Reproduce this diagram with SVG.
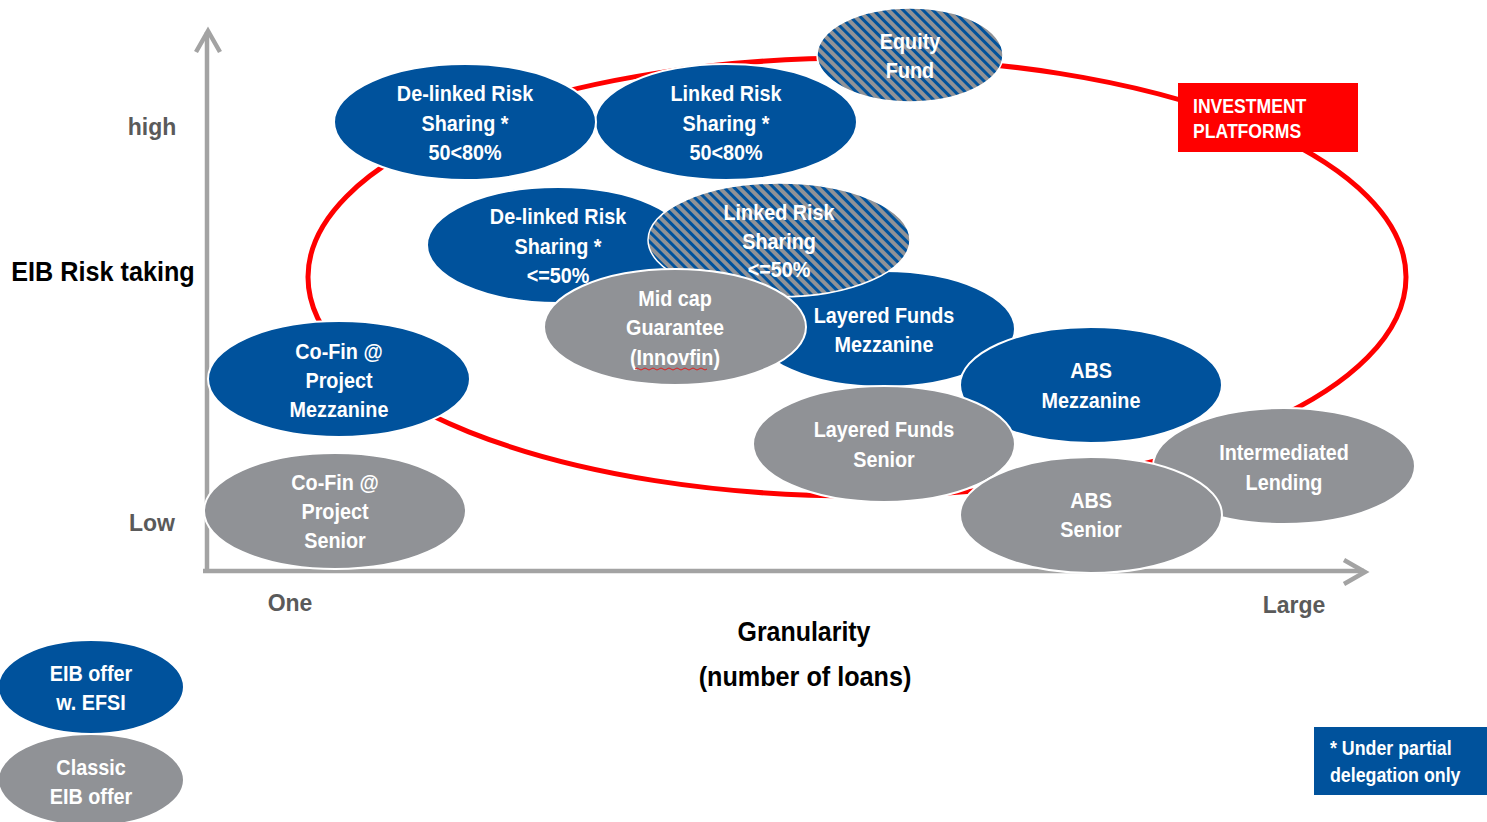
<svg xmlns="http://www.w3.org/2000/svg" width="1487" height="822" viewBox="0 0 1487 822">
<style>
.b{fill:#00529c;stroke:#fff;stroke-width:2}
.g{fill:#909296;stroke:#fff;stroke-width:2}
.h{fill:url(#hatch);stroke:#fff;stroke-width:1.5}
.t{font-family:"Liberation Sans",Arial,sans-serif;font-weight:bold;font-size:22px;fill:#fff;text-anchor:middle}
.ax{fill:none;stroke:#a3a3a3;stroke-width:4.5}
.lab{font-family:"Liberation Sans",Arial,sans-serif;font-weight:bold;font-size:23px;fill:#5a5a5a;text-anchor:middle}
.big{font-family:"Liberation Sans",Arial,sans-serif;font-weight:bold;font-size:28px;fill:#000;text-anchor:middle}
.box{font-family:"Liberation Sans",Arial,sans-serif;font-weight:bold;font-size:20px;fill:#fff}
</style>
<defs>
<pattern id="hatch" patternUnits="userSpaceOnUse" width="7" height="7" patternTransform="rotate(-45)">
<rect width="7" height="7" fill="#909296"/>
<rect width="3" height="7" fill="#00529c"/>
</pattern>
</defs>
<rect width="1487" height="822" fill="#fff"/>
<g id="axes">
<line class="ax" x1="207" y1="32" x2="207" y2="572"/>
<polyline class="ax" points="196,52 208,31 220,52"/>
<line class="ax" x1="203" y1="571" x2="1364" y2="571"/>
<polyline class="ax" points="1344,560 1365,572 1344,584"/>
</g>
<g id="platform-ring">
<ellipse cx="857" cy="277" rx="549" ry="219" fill="none" stroke="#ff0000" stroke-width="5"/>
</g>
<g id="equity-fund"><ellipse class="h" cx="910" cy="55" rx="93" ry="47"/><text class="t" transform="translate(910,0) scale(0.9,1)"><tspan x="0" y="49">Equity</tspan><tspan x="0" y="78">Fund</tspan></text></g>
<g id="linked-50-80"><ellipse class="b" cx="726" cy="122" rx="131" ry="58"/><text class="t" transform="translate(726,0) scale(0.9,1)"><tspan x="0" y="101">Linked Risk</tspan><tspan x="0" y="131">Sharing *</tspan><tspan x="0" y="160">50&lt;80%</tspan></text></g>
<g id="delinked-50-80"><ellipse class="b" cx="465" cy="122" rx="131" ry="58"/><text class="t" transform="translate(465,0) scale(0.9,1)"><tspan x="0" y="101">De-linked Risk</tspan><tspan x="0" y="131">Sharing *</tspan><tspan x="0" y="160">50&lt;80%</tspan></text></g>
<g id="layered-mezz"><ellipse class="b" cx="884" cy="329" rx="131" ry="58"/><text class="t" transform="translate(884,0) scale(0.9,1)"><tspan x="0" y="323">Layered Funds</tspan><tspan x="0" y="352">Mezzanine</tspan></text></g>
<g id="delinked-50"><ellipse class="b" cx="558" cy="245" rx="131" ry="58"/><text class="t" transform="translate(558,0) scale(0.9,1)"><tspan x="0" y="224">De-linked Risk</tspan><tspan x="0" y="254">Sharing *</tspan><tspan x="0" y="283">&lt;=50%</tspan></text></g>
<g id="linked-50"><ellipse class="h" cx="779" cy="240" rx="131" ry="57"/><text class="t" transform="translate(779,0) scale(0.9,1)"><tspan x="0" y="220">Linked Risk</tspan><tspan x="0" y="249">Sharing</tspan><tspan x="0" y="277">&lt;=50%</tspan></text></g>
<g id="midcap"><ellipse class="g" cx="675" cy="327" rx="131" ry="58"/><text class="t" transform="translate(675,0) scale(0.9,1)"><tspan x="0" y="306">Mid cap</tspan><tspan x="0" y="335">Guarantee</tspan><tspan x="0" y="365">(Innovfin)</tspan></text><path d="M635,369 q2,-2 4,0 t4,0 t4,0 t4,0 t4,0 t4,0 t4,0 t4,0 t4,0 t4,0 t4,0 t4,0 t4,0 t4,0 t4,0 t4,0 t4,0 t4,0" fill="none" stroke="#e02020" stroke-width="1"/></g>
<g id="cofin-mezz"><ellipse class="b" cx="339" cy="379" rx="131" ry="58"/><text class="t" transform="translate(339,0) scale(0.9,1)"><tspan x="0" y="359">Co-Fin @</tspan><tspan x="0" y="388">Project</tspan><tspan x="0" y="417">Mezzanine</tspan></text></g>
<g id="abs-mezz"><ellipse class="b" cx="1091" cy="385" rx="131" ry="58"/><text class="t" transform="translate(1091,0) scale(0.9,1)"><tspan x="0" y="378">ABS</tspan><tspan x="0" y="408">Mezzanine</tspan></text></g>
<g id="layered-senior"><ellipse class="g" cx="884" cy="444" rx="131" ry="58"/><text class="t" transform="translate(884,0) scale(0.9,1)"><tspan x="0" y="437">Layered Funds</tspan><tspan x="0" y="467">Senior</tspan></text></g>
<g id="intermediated"><ellipse class="g" cx="1284" cy="466" rx="131" ry="58"/><text class="t" transform="translate(1284,0) scale(0.9,1)"><tspan x="0" y="460">Intermediated</tspan><tspan x="0" y="490">Lending</tspan></text></g>
<g id="abs-senior"><ellipse class="g" cx="1091" cy="515" rx="131" ry="58"/><text class="t" transform="translate(1091,0) scale(0.9,1)"><tspan x="0" y="508">ABS</tspan><tspan x="0" y="537">Senior</tspan></text></g>
<g id="cofin-senior"><ellipse class="g" cx="335" cy="511" rx="131" ry="58"/><text class="t" transform="translate(335,0) scale(0.9,1)"><tspan x="0" y="490">Co-Fin @</tspan><tspan x="0" y="519">Project</tspan><tspan x="0" y="548">Senior</tspan></text></g>
<g id="investment-platforms"><rect x="1178" y="83" width="180" height="69" fill="#ff0000"/><text class="box" transform="translate(1193,0) scale(0.88,1)"><tspan x="0" y="113">INVESTMENT</tspan><tspan x="0" y="138">PLATFORMS</tspan></text></g>
<g id="labels">
<text class="lab" x="152" y="135">high</text>
<text class="lab" x="152" y="531">Low</text>
<text class="lab" x="290" y="611">One</text>
<text class="lab" x="1294" y="613">Large</text>
<text class="big" transform="translate(103,0) scale(0.9,1)" x="0" y="281">EIB Risk taking</text>
<text class="big" transform="translate(804,0) scale(0.89,1)" x="0" y="641">Granularity</text>
<text class="big" transform="translate(805,0) scale(0.9,1)" x="0" y="686">(number of loans)</text>
</g>
<g id="legend-efsi"><ellipse class="b" cx="91" cy="687" rx="93" ry="47"/><text class="t" transform="translate(91,0) scale(0.9,1)"><tspan x="0" y="681">EIB offer</tspan><tspan x="0" y="710">w. EFSI</tspan></text></g>
<g id="legend-classic"><ellipse class="g" cx="91" cy="780" rx="93" ry="46"/><text class="t" transform="translate(91,0) scale(0.9,1)"><tspan x="0" y="775">Classic</tspan><tspan x="0" y="804">EIB offer</tspan></text></g>
<g id="note"><rect x="1314" y="727" width="173" height="68" fill="#00529c"/><text class="box" transform="translate(1330,0) scale(0.89,1)"><tspan x="0" y="755">* Under partial</tspan><tspan x="0" y="782">delegation only</tspan></text></g>
</svg>
